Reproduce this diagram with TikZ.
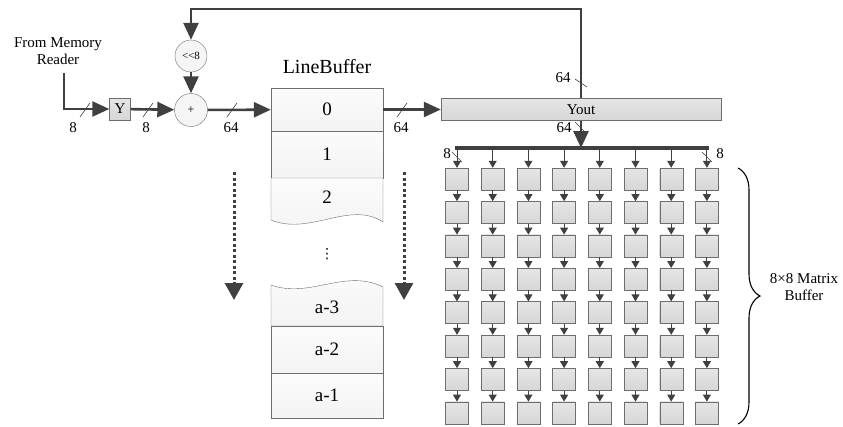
\documentclass[tikz,border=0pt]{standalone}
\usepackage{fontspec}
\setmainfont{Liberation Serif}
\newfontfamily\symfont{DejaVu Sans}
\usetikzlibrary{arrows.meta,decorations.pathreplacing}
\definecolor{linecol}{HTML}{404040}
\definecolor{edgecol}{HTML}{6E6E6E}
\tikzset{
  lbl/.style={font=\fontsize{15}{17}\selectfont},
  bus/.style={draw=linecol, line width=2.6pt, -{Triangle[length=17pt,width=15pt]}},
  tiny/.style={draw=linecol, line width=1pt, -{Triangle[length=7pt,width=8pt]}},
  dots/.style={draw=linecol, line width=3pt, dash pattern=on 3pt off 2.5pt, -{Triangle[length=17pt,width=18pt]}},
  widthmark/.style={draw=linecol, line width=0.6pt},
  cell/.style={rectangle, draw=edgecol, top color=gray!20, bottom color=gray!32, inner sep=0pt, minimum width=23pt, minimum height=22pt},
  op/.style={circle, draw=edgecol, fill=gray!8, inner sep=0pt, minimum size=33pt},
  row/.style={rectangle, draw=edgecol, top color=gray!3, bottom color=gray!9, inner sep=0pt, minimum width=112pt, font=\fontsize{19}{19}\selectfont}
}
\begin{document}
\begin{tikzpicture}[x=1pt,y=-1pt]
\useasboundingbox (0,0) rectangle (843,426);

% input path
\node[lbl, align=center] (src) at (58,51) {From Memory\\Reader};
\coordinate (inp) at (64,73);
\node[cell, minimum width=21pt, lbl] (yb) at (120,109) {Y};
\node[op, font=\fontsize{12}{12}\selectfont] (add) at (191,110) {+};
\node[op, minimum size=32pt, font=\fontsize{11}{11}\selectfont] (shl) at (191,56) {<{}<8};
\draw[bus] (inp) |- (yb);
\draw[bus] (yb) -- (add);
\draw[bus] (shl) -- (add);

% line buffer
\node[font=\fontsize{20}{20}\selectfont] (title) at (327,67) {LineBuffer};
\node[row, minimum height=43pt] (buf0) at (327,109.5) {0};
\node[row, minimum height=47pt] (buf1) at (327,154.5) {1};
\draw[draw=edgecol, top color=gray!3, bottom color=gray!9] (271,178) -- (383,178) -- (383,222)
  .. controls (350,200) and (310,236) .. (271,220) -- cycle;
\node[font=\fontsize{19}{19}\selectfont] (buf2) at (327,197) {2};
\node[font=\fontsize{14}{14}\selectfont\symfont] (vd) at (327,254) {⋮};
\draw[draw=edgecol, top color=gray!3, bottom color=gray!9] (271,285)
  .. controls (310,299) and (345,268) .. (383,287) -- (383,326) -- (271,326) -- cycle;
\node[font=\fontsize{19}{19}\selectfont] (bufa3) at (327,307) {a-3};
\node[row, minimum height=47pt] (bufa2) at (327,349.5) {a-2};
\node[row, minimum height=45pt] (bufa1) at (327,395.5) {a-1};
\draw[bus] (add) -- (buf0);

% shift direction
\coordinate (dl0) at (234,172);
\coordinate (dl1) at (234,300);
\coordinate (dr0) at (404,172);
\coordinate (dr1) at (404,300);
\draw[dots] (dl0) -- (dl1);
\draw[dots] (dr0) -- (dr1);

% output register and feedback
\node[cell, lbl, minimum width=280pt, minimum height=22pt] (yout) at (581,109.5) {Yout};
\draw[bus] (buf0) -- (yout);
\coordinate (fb) at (191,9);
\draw[bus] (yout.north) |- (fb) -- (shl);

% 8x8 matrix
\coordinate (busL) at (455,148);
\coordinate (busR) at (709,148);
\draw[draw=linecol, line width=3.6pt] (busL) -- (busR);
\draw[bus] (yout.south) -- (yout.south |- busL);
\foreach \i in {1,...,8} {
  \foreach \j in {1,...,8}
    \node[cell] (c-\i-\j) at ({457+35.7*(\i-1)},{179+33.4*(\j-1)}) {};
  \coordinate (b-\i) at (c-\i-1 |- busL);
  \draw[tiny] (b-\i) -- (c-\i-1);
  \foreach \j [remember=\j as \k (initially 1)] in {2,...,8}
    \draw[tiny] (c-\i-\k) -- (c-\i-\j);
}
\draw[decorate, decoration={brace, amplitude=22pt}, draw=black, line width=1.1pt] (738,168) -- (738,424);
\node[lbl, align=center] (mlabel) at (804,287) {8×8 Matrix\\Buffer};

% bus widths
\draw[widthmark] (85,110) +(-5,7) -- +(5,-7);
\node[lbl] (w1) at (73,128) {8};
\draw[widthmark] (148,110) +(-5,7) -- +(5,-7);
\node[lbl] (w2) at (146,128) {8};
\draw[widthmark] (232,110) +(-5,7) -- +(5,-7);
\node[lbl] (w3) at (231,128) {64};
\draw[widthmark] (402,110) +(-5,7) -- +(5,-7);
\node[lbl] (w4) at (401,128) {64};
\draw[widthmark] (581,83) +(-6,-4) -- +(6,4);
\node[lbl] (w5) at (563,78) {64};
\draw[widthmark] (581,128) +(-6,-6) -- +(6,6);
\node[lbl] (w6) at (564,128) {64};
\draw[widthmark] (457,157) +(-5,-5) -- +(5,5);
\node[lbl] (w7) at (447,154) {8};
\draw[widthmark] (707,157) +(-5,-5) -- +(5,5);
\node[lbl] (w8) at (720,154) {8};
\end{tikzpicture}
\end{document}
